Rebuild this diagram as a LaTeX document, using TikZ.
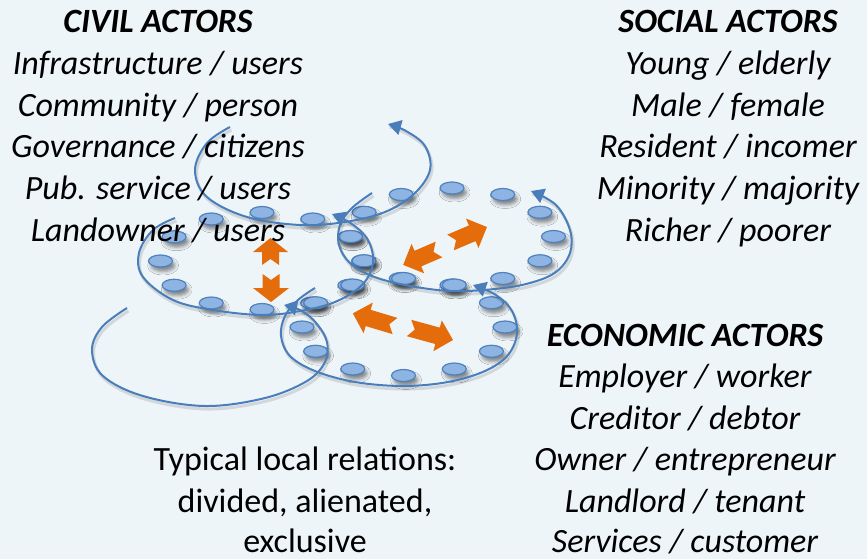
\documentclass[tikz,border=0pt]{standalone}
\usepackage{fontspec}
\setmainfont{Carlito}
\usetikzlibrary{arrows.meta,shadows.blur,calc}
\definecolor{bgc}{HTML}{EEF5F9}
\definecolor{curvec}{HTML}{4A7EBB}
\definecolor{dotfill}{HTML}{8DB4E2}
\definecolor{dotdraw}{HTML}{4F81BD}
\definecolor{orangec}{HTML}{E46C0A}
\newcommand\curveA[1]{\draw[#1] plot[smooth,tension=.6] coordinates {(230,127) (207,143) (195,170) (207,197) (247,217) (300,225) (345,222) (385,212) (414,194) (430,170) (425,146) (406,131) (388,124)};}
\newcommand\curveB[1]{\draw[#1] plot[smooth,tension=.6] coordinates {(175,218) (153,230) (139,253) (143,277) (173,300) (213,310) (262,315) (300,311) (335,302) (362,285) (373,263) (368,240) (352,224) (332,214)};}
\newcommand\curveC[1]{\draw[#1] plot[smooth,tension=.6] coordinates {(372,193) (352,208) (340,225) (339,245) (350,263) (372,276) (405,285) (450,291) (495,289) (530,283) (556,272) (570,253) (570,230) (556,205) (531,191)};}
\newcommand\curveD[1]{\draw[#1] plot[smooth,tension=.6] coordinates {(315,288) (298,300) (285,316) (281,336) (290,356) (315,371) (355,382) (403,386) (448,382) (485,371) (508,355) (517,333) (512,311) (496,295) (473,285)};}
\newcommand\curveE[1]{\draw[#1] plot[smooth,tension=.6] coordinates {(127,308) (102,327) (92,350) (103,376) (143,396) (205,406) (265,398) (307,381) (325,362) (327,342) (317,324) (302,311) (284,305)};}
\newcommand\orangearrow[5]{\fill[oarr, shift={(#1)}, rotate=#2] (0,8.5) -- ({#3-#4},8.5) -- ({#3-#4},#5) -- (#3,0) -- ({#3-#4},-#5) -- ({#3-#4},-8.5) -- (0,-8.5) -- (6,0) -- cycle;}
\begin{document}
\begin{tikzpicture}[x=1pt,y=-1pt,
  txt/.style={anchor=base, inner sep=0pt, font=\fontsize{34}{41}\selectfont\itshape},
  headtxt/.style={anchor=base, inner sep=0pt, font=\fontsize{34}{41}\selectfont\bfseries\itshape},
  plaintxt/.style={anchor=base, inner sep=0pt, font=\fontsize{34}{41}\selectfont},
  curve/.style={draw=curvec, line width=2pt, -{Triangle[length=13pt,width=15pt]}},
  cshadow/.style={draw=black, opacity=0.12, line width=3pt, shift={(1.5,3)}},
  dot/.style={fill=dotfill, draw=dotdraw, line width=1.2pt,
    blur shadow={shadow xshift=2.5pt, shadow yshift=-4.5pt, shadow blur radius=3.5pt, shadow opacity=45}},
  oarr/.style={fill=orangec}
]
\useasboundingbox (0,0) rectangle (867,559);
\fill[bgc] (0,0) rectangle (867,559);

% dots rings
\foreach \cx/\cy in {262/261,452/236.5,403.5/327}{
  \foreach \a in {0,30,...,330}{
    \path[dot] ($(\cx,\cy)+(\a:101.5 and 48.5)$) ellipse [x radius=12, y radius=6];
  }
}

% curve shadows
\curveA{cshadow}\curveB{cshadow}\curveC{cshadow}\curveD{cshadow}\curveE{cshadow}
% curves
\curveA{curve}\curveB{curve}\curveC{curve}\curveD{curve}\curveE{curve}

% orange arrows
\orangearrow{270.5,265}{90}{27}{14}{17.5}
\orangearrow{271,274}{-90}{28}{14}{18}
\orangearrow{439,249.5}{203.3}{39}{16}{16}
\orangearrow{450.5,242.5}{23}{39.6}{16}{16}
\orangearrow{395,326}{163.3}{44}{16}{16}
\orangearrow{409,328}{-15.3}{45.6}{16}{16}

% civil actors
\node[headtxt] (civh) at (158,33) {CIVIL ACTORS};
\node[txt] (civ1) at (158,74.6) {Infrastructure / users};
\node[txt] (civ2) at (158,116.2) {Community / person};
\node[txt] (civ3) at (158,157.8) {Governance / citizens};
\node[txt] (civ4) at (158,199.4) {Pub. service / users};
\node[txt] (civ5) at (158,241) {Landowner / users};
% social actors
\node[headtxt] (soch) at (728,33) {SOCIAL ACTORS};
\node[txt] (soc1) at (728,74.6) {Young / elderly};
\node[txt] (soc2) at (728,116.2) {Male / female};
\node[txt] (soc3) at (728,157.8) {Resident / incomer};
\node[txt] (soc4) at (728,199.4) {Minority / majority};
\node[txt] (soc5) at (728,241) {Richer / poorer};
% economic actors
\node[headtxt] (ecoh) at (685,346) {ECONOMIC ACTORS};
\node[txt] (eco1) at (685,387.6) {Employer / worker};
\node[txt] (eco2) at (685,429.2) {Creditor / debtor};
\node[txt] (eco3) at (685,470.8) {Owner / entrepreneur};
\node[txt] (eco4) at (685,512.4) {Landlord / tenant};
\node[txt] (eco5) at (685,552) {Services / customer};
% typical relations
\node[plaintxt] (rel1) at (305,470.8) {Typical local relations:};
\node[plaintxt] (rel2) at (305,512.4) {divided, alienated,};
\node[plaintxt] (rel3) at (305,552) {exclusive};
\end{tikzpicture}
\end{document}
